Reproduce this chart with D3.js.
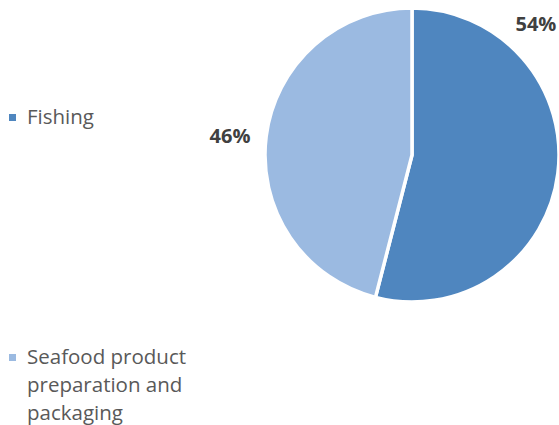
<!DOCTYPE html>
<html lang="en">
<head>
<meta charset="utf-8">
<script src="https://cdn.jsdelivr.net/npm/d3@7/dist/d3.min.js"></script>
<style>
  body { margin: 0; background: #fff; }
</style>
</head>
<body>
<script>
// data
var categories = ['Fishing', 'Seafood product preparation and packaging'];
var shares = [54, 46];
var colors = ['#4f86bf', '#9bbae1'];

var w = 559, h = 425;
var cx = 412, cy = 155, r = 147;

var svg = d3.select('body').append('svg')
  .attr('width', w)
  .attr('height', h);

var dataset = categories.map(function(c, i) {
  return { name: c, value: shares[i], color: colors[i] };
});

var pie = d3.pie().sort(null).value(function(d) { return d.value; });
var arc = d3.arc().innerRadius(0).outerRadius(r);

var g = svg.append('g').attr('transform', 'translate(' + cx + ',' + cy + ')');

g.selectAll('path')
  .data(pie(dataset))
  .enter()
  .append('path')
  .attr('d', arc)
  .attr('fill', function(d) { return d.data.color; })
  .attr('stroke', '#fff')
  .attr('stroke-width', 3.5)
  .attr('stroke-linejoin', 'miter');

// data labels sit outside the pie (excel best fit)
var labelAngles = [43.5, -84];
var labelR = [180, 183];
g.selectAll('text.lbl')
  .data(pie(dataset))
  .enter()
  .append('text')
  .attr('class', 'lbl')
  .attr('x', function(d, i) { return labelR[i] * Math.sin(labelAngles[i] * Math.PI / 180); })
  .attr('y', function(d, i) { return -labelR[i] * Math.cos(labelAngles[i] * Math.PI / 180); })
  .attr('dy', '0.35em')
  .attr('text-anchor', 'middle')
  .attr('font-family', 'Open Sans, sans-serif')
  .attr('font-weight', 'bold')
  .attr('font-size', '20px')
  .attr('fill', '#404040')
  .text(function(d) { return d.data.value + '%'; });

// legend
var legendLines = [['Fishing'], ['Seafood product', 'preparation and', 'packaging']];
var legendY = [124, 364];
var legend = svg.selectAll('g.legend')
  .data(dataset)
  .enter()
  .append('g')
  .attr('class', 'legend');

legend.append('rect')
  .attr('x', 9)
  .attr('y', function(d, i) { return legendY[i] - 10; })
  .attr('width', 7)
  .attr('height', 7)
  .attr('fill', function(d) { return d.color; });

legend.append('text')
  .attr('font-family', 'Open Sans, sans-serif')
  .attr('font-size', '20.5px')
  .attr('fill', '#595959')
  .each(function(d, i) {
    var t = d3.select(this);
    legendLines[i].forEach(function(line, j) {
      t.append('tspan')
        .attr('x', 27)
        .attr('y', legendY[i] + j * 28)
        .text(line);
    });
  });
</script>
</body>
</html>
